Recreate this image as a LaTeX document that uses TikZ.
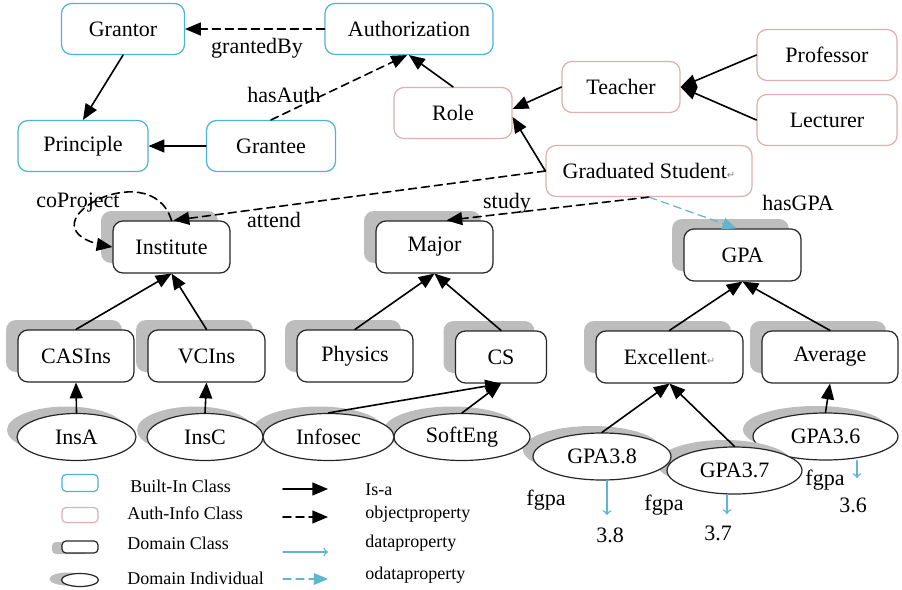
\documentclass[tikz,border=0pt]{standalone}
\usepackage{fontspec}
\setmainfont{Liberation Serif}
\newfontfamily\symfont{DejaVu Sans}
\usepackage{tikz}
\usetikzlibrary{arrows,shapes.geometric,shadows}
\definecolor{bltcol}{rgb}{0.30,0.71,0.83}
\definecolor{authcol}{rgb}{0.87,0.69,0.69}
\definecolor{shdcol}{rgb}{0.74,0.74,0.74}
\definecolor{datcol}{rgb}{0.38,0.71,0.80}
\newcommand{\retmark}{{\symfont\fontsize{5}{5}\selectfont\color{gray}↵}}

\tikzset{
	common/.style={font=\fontsize{11}{13}\selectfont, inner sep=2pt, line width=0.6pt},
	builtin/.style={common, draw=bltcol, rounded corners=5pt, minimum height=25.5pt},
	authinfo/.style={common, draw=authcol, rounded corners=5pt, minimum height=25.5pt},
	domcls/.style={common, draw=black!85, fill=white, rounded corners=5pt, minimum height=26pt},
	domind/.style={common, ellipse, draw=black!85, fill=white, minimum height=23.5pt, inner sep=0pt},
	clsshd/.style={general shadow={fill=shdcol, shadow xshift=-6pt, shadow yshift=5pt}},
	indshd/.style={general shadow={fill=shdcol, shadow xshift=-5pt, shadow yshift=3.5pt}},
	lbl/.style={font=\fontsize{11}{13}\selectfont, inner sep=0pt},
	leg/.style={font=\fontsize{9}{11}\selectfont, inner sep=0pt, anchor=west},
	isa/.style={->, line width=0.8pt},
	objprop/.style={->, dash pattern=on 4pt off 2.5pt, line width=0.8pt},
	dataprop/.style={-to, datcol, line width=0.7pt},
	odataprop/.style={->, dash pattern=on 4pt off 2.5pt, datcol, line width=0.6pt},
}

\begin{document}
\begin{tikzpicture}[line cap=round,line join=round,>=triangle 45,x=0.5pt,y=-0.5pt]
	\path[use as bounding box, fill=white] (0,0) rectangle (902,590);
	% built-in classes
	\node[builtin, minimum width=61.5pt] (Grantor) at (123,29) {Grantor};
	\node[builtin, minimum width=84pt] (Authorization) at (409,29) {Authorization};
	\node[builtin, minimum width=65pt] (Principle) at (83,146) {Principle};
	\node[builtin, minimum width=64.5pt] (Grantee) at (271,146) {Grantee};
	% auth-info classes
	\node[authinfo, minimum width=59pt] (Role) at (453,113) {Role};
	\node[authinfo, minimum width=59pt] (Teacher) at (621,87) {Teacher};
	\node[authinfo, minimum width=70pt] (Professor) at (827,55) {Professor};
	\node[authinfo, minimum width=70pt] (Lecturer) at (827,120) {Lecturer};
	\node[authinfo, minimum width=103pt] (GradStudent) at (649,171) {Graduated Student\retmark};
	% domain classes
	\node[domcls, clsshd, minimum width=58.5pt] (Institute) at (171.5,247) {Institute};
	\node[domcls, clsshd, minimum width=58.5pt] (Major) at (434.5,247) {Major};
	\node[domcls, clsshd, minimum width=58.5pt] (GPA) at (742.5,255) {GPA};
	\node[domcls, clsshd, minimum width=58pt] (CASIns) at (76,356) {CASIns};
	\node[domcls, clsshd, minimum width=58.5pt] (VCIns) at (206.5,356) {VCIns};
	\node[domcls, clsshd, minimum width=58pt] (Physics) at (355,356) {Physics};
	\node[domcls, clsshd, minimum width=45.5pt] (CS) at (501,357) {CS};
	\node[domcls, clsshd, minimum width=73.5pt] (Excellent) at (669.5,357) {Excellent\retmark};
	\node[domcls, clsshd, minimum width=68pt] (Average) at (830,357) {Average};
	% domain individuals
	\node[domind, indshd, minimum width=72.5pt] (GPA36) at (825.5,436.5) {GPA3.6};
	\node[domind, indshd, minimum width=67.5pt] (GPA37) at (734.5,470.5) {GPA3.7};
	\node[domind, indshd, minimum width=69pt] (GPA38) at (602,456.5) {GPA3.8};
	\node[domind, indshd, minimum width=68pt] (SoftEng) at (462,437) {SoftEng};
	\node[domind, indshd, minimum width=65.5pt] (Infosec) at (328.5,437) {Infosec};
	\node[domind, indshd, minimum width=58pt] (InsC) at (205,437) {InsC};
	\node[domind, indshd, minimum width=59.5pt] (InsA) at (76.5,437) {InsA};
	% is-a
	\draw[isa] (Grantor.south) -- (Principle.north);
	\draw[isa] (Grantee) -- (Principle);
	\draw[isa] (Role.north) -- (Authorization.south);
	\draw[isa] (Teacher.west) -- ([yshift=2pt]Role.east);
	\draw[isa] (GradStudent.west) -- ([yshift=-2pt]Role.east);
	\draw[isa] (Professor.west) -- (Teacher.east);
	\draw[isa] (Lecturer.west) -- (Teacher.east);
	\draw[isa] (CASIns.north) -- (Institute.south);
	\draw[isa] (VCIns.north) -- (Institute.south);
	\draw[isa] (Physics.north) -- (Major.south);
	\draw[isa] (CS.north) -- (Major.south);
	\draw[isa] (Excellent.north) -- (GPA.south);
	\draw[isa] (Average.north) -- (GPA.south);
	\draw[isa] (InsA.north) -- (CASIns.south);
	\draw[isa] (InsC.north) -- (VCIns.south);
	\draw[isa] (Infosec.north) -- (CS.south);
	\draw[isa] (SoftEng.north) -- (CS.south);
	\draw[isa] (GPA38.north) -- (Excellent.south);
	\draw[isa] (GPA37.north) -- (Excellent.south);
	\draw[isa] (GPA36.north) -- (Average.south);
	% object properties
	\draw[objprop] (Authorization.west) -- (Grantor.east);
	\draw[objprop] (Grantee.north) -- ([xshift=-1pt]Authorization.south);
	\draw[objprop] (GradStudent.west) -- ([xshift=1pt]Institute.north);
	\draw[objprop] (GradStudent.south) -- ([xshift=6pt]Major.north);
	\draw[objprop] (Institute.north) .. controls (150,150) and (10,230) .. (Institute.west);
	\draw[odataprop] (GradStudent.south) -- ([xshift=-3pt]GPA.north);
	\node[lbl] (lgrantedBy) at (257,48) {grantedBy};
	\node[lbl] (lhasAuth) at (284,95) {hasAuth};
	\node[lbl] (lattend) at (274,220) {attend};
	\node[lbl] (lstudy) at (507,203) {study};
	\node[lbl] (lhasGPA) at (798,203) {hasGPA};
	\node[lbl] (lcoProject) at (78,203) {coProject};
	% data properties
	\node[lbl] (v38) at (610,535) {3.8};
	\node[lbl] (v37) at (718,533) {3.7};
	\node[lbl] (v36) at (853,505) {3.6};
	\node[lbl] (f38) at (546,500) {fgpa};
	\node[lbl] (f37) at (664,505) {fgpa};
	\node[lbl] (f36) at (825,480) {fgpa};
	\coordinate (d38) at (607,515);
	\coordinate (d37) at (727,514);
	\coordinate (d36) at (857,478);
	\draw[dataprop] (GPA38.south -| d38) -- (d38);
	\draw[dataprop] (GPA37.south -| d37) -- (d37);
	\draw[dataprop] (GPA36.south -| d36) -- (d36);
	% legend
	\node[builtin, minimum width=18pt, minimum height=8.5pt, rounded corners=2pt] (lgBuiltin) at (80,483) {};
	\node[authinfo, minimum width=18pt, minimum height=7.5pt, rounded corners=2pt] (lgAuth) at (80,515) {};
	\node[domcls, minimum width=18pt, minimum height=6pt, rounded corners=2pt, general shadow={fill=shdcol, shadow xshift=-5pt, shadow yshift=-0.5pt}] (lgDomcls) at (80,547) {};
	\node[domind, minimum width=18.5pt, minimum height=6.5pt, general shadow={fill=shdcol, shadow xshift=-6pt, shadow yshift=0.5pt}] (lgDomind) at (80,580) {};
	\node[leg] (tBuiltin) at (130,486) {Built-In Class};
	\node[leg] (tAuth) at (127,513) {Auth-Info Class};
	\node[leg] (tDomcls) at (127,543) {Domain Class};
	\node[leg] (tDomind) at (127,578) {Domain Individual};
	\coordinate (a1) at (283,489);
	\coordinate (b1) at (328,489);
	\coordinate (a2) at (283,517);
	\coordinate (b2) at (328,517);
	\coordinate (a3) at (283,552);
	\coordinate (b3) at (328,552);
	\coordinate (a4) at (283,579);
	\coordinate (b4) at (328,579);
	\draw[isa] (a1) -- (b1);
	\draw[objprop] (a2) -- (b2);
	\draw[dataprop] (a3) -- (b3);
	\draw[odataprop] (a4) -- (b4);
	\node[leg] (tIsa) at (365,490) {Is-a};
	\node[leg] (tObj) at (365,514) {objectproperty};
	\node[leg] (tData) at (365,543) {dataproperty};
	\node[leg] (tOdata) at (365,575) {odataproperty};
\end{tikzpicture}
\end{document}
